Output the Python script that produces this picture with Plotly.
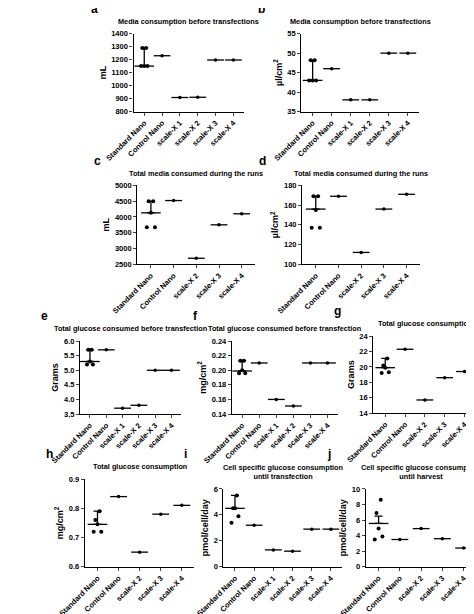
import plotly.graph_objects as go

C6 = ["Standard Nano", "Control Nano", "scale-X 1", "scale-X 2", "scale-X 3", "scale-X 4"]
C5 = ["Standard Nano", "Control Nano", "scale-X 2", "scale-X 3", "scale-X 4"]

# panel data: standard nano replicates, other groups single values, centre / upper / lower
a_std = [1150, 1150, 1150, 1290, 1290]; a_oth = [1230, 908, 910, 1197, 1197]
b_std = [43, 43, 43, 48.2, 48.2]; b_oth = [46, 38, 38, 50, 50]
c_std = [3670, 3670, 4130, 4500, 4500]; c_oth = [4520, 2690, 3750, 4100]
d_std = [137, 137, 155, 169, 169]; d_oth = [169, 112, 156, 171]
e_std = [5.2, 5.2, 5.3, 5.7, 5.7]; e_oth = [5.7, 3.7, 3.8, 5.0, 5.0]
f_std = [0.196, 0.196, 0.2, 0.213, 0.213]; f_oth = [0.21, 0.16, 0.151, 0.21, 0.21]
g_std = [19.2, 19.3, 19.9, 20.2, 21.1]; g_oth = [22.3, 15.7, 18.6, 19.4]
h_std = [0.72, 0.72, 0.745, 0.76, 0.79]; h_oth = [0.84, 0.65, 0.78, 0.81]
i_std = [3.4, 3.9, 4.5, 4.5, 5.5]; i_oth = [3.2, 1.3, 1.2, 2.9, 2.9]
j_std = [3.5, 3.9, 4.9, 6.9, 8.6]; j_oth = [3.5, 4.9, 3.6, 2.4]
# Standard Nano centre line and upper whisker
centres = {"a": (1150, 1290), "b": (43, 48.2), "c": (4130, 4500), "d": (156, 169),
           "e": (5.3, 5.7), "f": (0.199, 0.213), "g": (19.9, 21.1), "h": (0.745, 0.79),
           "i": (4.5, 5.5), "j": (5.56, 6.5)}

panels = [
    ("a", "Media consumption before transfections", "mL", C6, a_std, a_oth, [800, 1400], 100, "", (102, 220, 22, 101)),
    ("b", "Media consumption before transfections", "µl/cm<sup>2</sup>", C6, b_std, b_oth, [35, 55], 5, "", (281, 407, 22, 101)),
    ("c", "Total media consumed during the runs", "mL", C5, c_std, c_oth, [2500, 5000], 500, "", (106, 232, 176, 256)),
    ("d", "Total media consumed during the runs", "µl/cm<sup>2</sup>", C5, d_std, d_oth, [100, 180], 20, "", (282, 408, 176, 256)),
    ("e", "Total glucose consumed before transfection", "Grams", C6, e_std, e_oth, [3.5, 6.0], 0.5, ".1f", (45, 153, 334, 408)),
    ("f", "Total glucose consumed before transfection", "mg/cm<sup>2</sup>", C6, f_std, f_oth, [0.14, 0.24], 0.02, ".2f", (207, 320, 334, 408)),
    ("g", "Total glucose consumption", "Grams", C5, g_std, g_oth, [14, 24], 2, "", (358, 468, 329, 407)),
    ("h", "Total glucose consumption", "mg/cm<sup>2</sup>", C5, h_std, h_oth, [0.6, 0.9], 0.1, ".1f", (50, 167, 474, 563)),
    ("i", "Cell specific glucose consumption<br>until transfection", "pmol/cell/day", C6, i_std, i_oth, [0, 6], 2, "", (198, 325, 484, 563)),
    ("j", "Cell specific glucose consumption<br>until harvest", "pmol/cell/day", C5, j_std, j_oth, [0, 10], 2, "", (350, 468, 484, 563)),
]
jitter = [-0.18, 0.18, 0.0, -0.1, 0.1]

W, H = 474, 614
fig = go.Figure()
ann = []
lay = {}
FONT = "Liberation Sans, Arial"
for k, (key, title, ytitle, cats, std, oth, yr, dt, fmt, box) in enumerate(panels, start=1):
    xa = "x" if k == 1 else f"x{k}"
    ya = "y" if k == 1 else f"y{k}"
    xs = [jitter[n] for n in range(len(std))]
    fig.add_trace(go.Scatter(x=xs, y=sorted(std), mode="markers", xaxis=xa, yaxis=ya, cliponaxis=False,
                             marker=dict(color="black", size=4), showlegend=False))
    cen, up = centres[key]
    fig.add_trace(go.Scatter(x=[0], y=[cen], mode="markers", xaxis=xa, yaxis=ya, cliponaxis=False,
                             marker=dict(symbol="line-ew", size=14, line=dict(color="black", width=1.3)),
                             error_y=dict(type="data", symmetric=False, array=[up - cen], arrayminus=[0],
                                          color="black", thickness=1.3, width=4),
                             showlegend=False))
    xo = list(range(1, len(cats)))
    fig.add_trace(go.Scatter(x=xo, y=oth, mode="markers", xaxis=xa, yaxis=ya, cliponaxis=False,
                             marker=dict(symbol="line-ew", size=12, line=dict(color="black", width=1.3)),
                             showlegend=False))
    fig.add_trace(go.Scatter(x=xo, y=oth, mode="markers", xaxis=xa, yaxis=ya, cliponaxis=False,
                             marker=dict(color="black", size=3.5), showlegend=False))
    x0, x1, y0, y1 = box
    n = len(cats)
    lay[f"xaxis{k}"] = dict(domain=[x0 / W, x1 / W], anchor=ya, range=[-0.6, n - 0.4],
                            tickvals=list(range(n)), ticktext=cats, tickangle=-45,
                            showline=True, linecolor="black", linewidth=1.3, ticks="outside",
                            ticklen=3, tickwidth=1.3, showgrid=False, zeroline=False,
                            tickfont=dict(family=FONT, size=7.5, color="black", weight="bold"))
    lay[f"yaxis{k}"] = dict(domain=[1 - y1 / H, 1 - y0 / H], anchor=xa, range=yr, dtick=dt,
                            tickformat=fmt, showline=True, linecolor="black", linewidth=1.3,
                            ticks="outside", ticklen=3, tickwidth=1.3, showgrid=False, zeroline=False,
                            tickfont=dict(family=FONT, size=7.5, color="black", weight="bold"),
                            title=dict(text=ytitle, standoff=3,
                                       font=dict(family=FONT, size=9, color="black", weight="bold")))
    nl = title.count("<br>")
    ann.append(dict(text=title, x=(x0 + x1) / 2 / W, y=1 - (y0 - 6) / H, xref="paper", yref="paper",
                    xanchor="center", yanchor="bottom", showarrow=False,
                    font=dict(family=FONT, size=7.3, color="black", weight="bold")))
    ann.append(dict(text=key, x=(x0 - (48 if key in "abcd" else 44)) / W,
                    y=1 - (y0 - 6 - 10 * (nl + 1)) / H, xref="paper", yref="paper",
                    xanchor="left", yanchor="bottom", showarrow=False,
                    font=dict(family=FONT, size=12, color="black", weight="bold")))

fig.update_layout(width=W, height=H, margin=dict(l=0, r=0, t=0, b=0), plot_bgcolor="white",
                  paper_bgcolor="white", annotations=ann, **lay)
fig.write_html("out.html")
